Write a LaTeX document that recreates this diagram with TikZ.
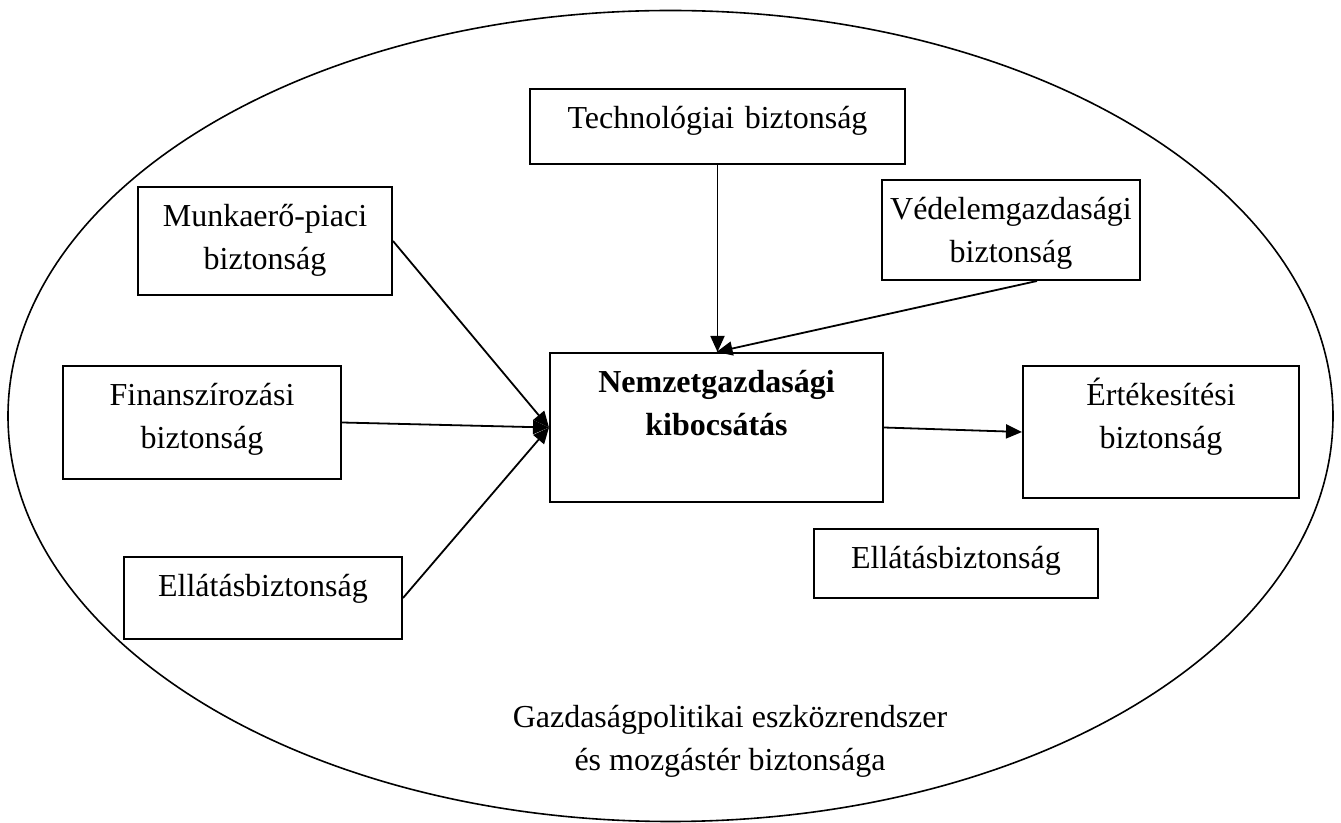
\documentclass[tikz,border=0pt]{standalone}
\usepackage{fontspec}
\setmainfont{Liberation Serif}
\usepackage{tikz}
\usetikzlibrary{positioning,arrows.meta,calc}
\tikzset{
  secbox/.style={rectangle,draw=black,line width=1pt,align=center,anchor=north,inner sep=0pt,text height=20pt,font=\fontsize{16}{21.5}\selectfont},
  boldbox/.style={secbox,font=\fontsize{16}{21.5}\selectfont\bfseries},
  rim/.style={draw=black,line width=0.8pt},
  edge/.style={-{Triangle[length=8pt,width=7pt]},line width=0.9pt}
}
\begin{document}
\begin{tikzpicture}[x=0.5pt,y=-0.5pt]
  \useasboundingbox (0,0) rectangle (1341,823);
  \draw[rim] (670.5,416) ellipse [x radius=662.5,y radius=405.5];
  \node[secbox,text width=187.5pt,text depth=17.5pt] (tech) at (717.5,88) {Technológiai biztonság};
  \node[secbox,text width=127pt,text depth=34pt] (labour) at (265,186) {Munkaerő-piaci\\biztonság};
  \node[secbox,text width=129pt,text depth=30pt] (defence) at (1011,179) {Védelemgazdasági\\biztonság};
  \node[secbox,text width=139pt,text depth=36.5pt] (finance) at (202,365) {Finanszírozási\\biztonság};
  \node[boldbox,text width=166.5pt,text depth=54.5pt] (output) at (716.5,352) {Nemzetgazdasági\\kibocsátás};
  \node[secbox,text width=138pt,text depth=46pt] (sales) at (1161,365) {Értékesítési\\biztonság};
  \node[secbox,text width=142pt,text depth=14.5pt] (supplyR) at (956,528) {Ellátásbiztonság};
  \node[secbox,text width=139pt,text depth=21pt] (supplyL) at (263,556) {Ellátásbiztonság};
  \node[align=center,font=\fontsize{16}{21.5}\selectfont] (policy) at (730,741) {Gazdaságpolitikai eszközrendszer\\és mozgástér biztonsága};
  \draw[edge] (tech) -- (tech |- output.north);
  \draw[edge] ($(defence.south west)!0.6!(defence.south east)$) -- (output.north);
  \draw[edge] (labour.east) -- (output.west);
  \draw[edge] (finance.east) -- (output.west);
  \draw[edge] (supplyL.east) -- (output.west);
  \draw[edge] (output.east) -- (sales.west);
\end{tikzpicture}
\end{document}
